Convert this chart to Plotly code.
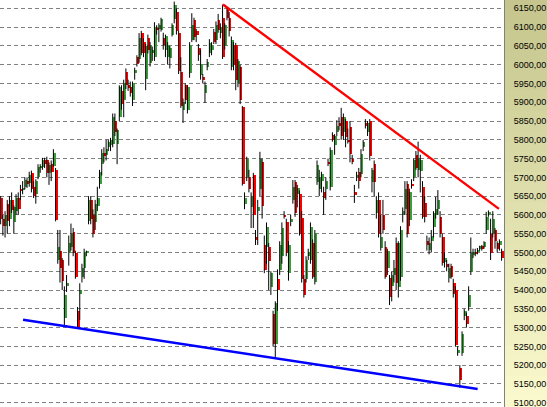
import plotly.graph_objects as go

# ---- data (daily candles, index = trading day) ----
opens = [
    5645, 5590, 5570, 5630, 5590, 5640, 5580, 5610, 5645, 5670,
    5668, 5675, 5690, 5685, 5712, 5675, 5655, 5700, 5725, 5728,
    5746, 5745, 5712, 5735, 5730, 5720, 5480, 5505, 5480, 5325,
    5410, 5498, 5515, 5555, 5498, 5345, 5390, 5435, 5460, 5500,
    5585, 5640, 5600, 5580, 5625, 5683, 5735, 5765, 5760, 5780,
    5785, 5790, 5850, 5790, 5860, 5930, 5905, 5980, 5945, 5940,
    5905, 5978, 6020, 6015, 6084, 6060, 5962, 6072, 6005, 6030,
    6020, 6098, 6095, 6092, 6070, 6040, 6020, 6017, 6080, 6122,
    6140, 6084, 5980, 5880, 5945, 5880, 5977, 6066, 6118, 6090,
    6044, 5972, 5966, 5924, 5995, 6030, 6040, 6087, 6066, 6118,
    6085, 6124, 6050, 6150, 6125, 5995, 6052, 6052, 5950, 5995,
    5888, 5630, 5700, 5702, 5620, 5705, 5540, 5610, 5670, 5740,
    5520, 5515, 5515, 5408, 5337, 5257, 5430, 5453, 5490, 5600,
    5582, 5445, 5582, 5640, 5688, 5655, 5657, 5591, 5430, 5430,
    5490, 5480, 5525, 5422, 5688, 5670, 5690, 5660, 5670, 5742,
    5675, 5812, 5785, 5820, 5845, 5860, 5820, 5850, 5800, 5833,
    5750, 5660, 5700, 5715, 5710, 5780, 5845, 5820, 5850, 5688,
    5735, 5605, 5640, 5512, 5600, 5515, 5460, 5432, 5410, 5440,
    5525, 5408, 5435, 5600, 5617, 5683, 5587, 5683, 5700, 5760,
    5720, 5717, 5675, 5632, 5530, 5507, 5530, 5568, 5600, 5615,
    5595, 5542, 5475, 5470, 5432, 5465, 5420, 5400, 5235, 5193,
    5233, 5330, 5330, 5355, 5448, 5492, 5502, 5500, 5510, 5516,
    5515, 5560, 5600, 5550, 5550, 5560, 5525, 5520, 5505,
]
highs = [
    5650, 5600, 5610, 5640, 5650, 5660, 5625, 5655, 5660, 5680,
    5690, 5700, 5700, 5715, 5718, 5690, 5695, 5735, 5735, 5752,
    5752, 5755, 5740, 5745, 5775, 5725, 5560, 5560, 5485, 5410,
    5440, 5545, 5577, 5565, 5505, 5355, 5418, 5470, 5510, 5505,
    5650, 5650, 5615, 5640, 5675, 5720, 5775, 5780, 5800, 5800,
    5805, 5870, 5870, 5830, 5945, 5945, 5960, 5990, 5960, 5955,
    5955, 5992, 6025, 6084, 6090, 6070, 6055, 6080, 6060, 6048,
    6113, 6105, 6110, 6125, 6085, 6080, 6060, 6050, 6110, 6168,
    6150, 6090, 6020, 5910, 5950, 5945, 6060, 6137, 6125, 6095,
    6055, 6040, 5975, 5955, 6015, 6068, 6060, 6095, 6115, 6135,
    6110, 6160, 6110, 6152, 6140, 6075, 6060, 6058, 6015, 6000,
    5890, 5660, 5755, 5720, 5660, 5712, 5560, 5640, 5768, 5750,
    5545, 5580, 5525, 5450, 5345, 5370, 5455, 5530, 5580, 5610,
    5590, 5530, 5600, 5693, 5693, 5680, 5665, 5610, 5440, 5490,
    5510, 5580, 5535, 5560, 5745, 5720, 5715, 5675, 5700, 5750,
    5780, 5820, 5815, 5852, 5860, 5885, 5870, 5855, 5830, 5850,
    5760, 5680, 5715, 5725, 5775, 5800, 5855, 5850, 5855, 5725,
    5745, 5650, 5660, 5600, 5640, 5530, 5510, 5440, 5450, 5480,
    5540, 5530, 5570, 5620, 5690, 5690, 5670, 5695, 5750, 5770,
    5795, 5760, 5690, 5650, 5545, 5540, 5560, 5610, 5648, 5666,
    5610, 5550, 5500, 5480, 5470, 5470, 5430, 5410, 5250, 5200,
    5290, 5350, 5340, 5410, 5540, 5510, 5510, 5512, 5518, 5520,
    5530, 5608, 5612, 5590, 5610, 5565, 5530, 5535, 5510,
]
lows = [
    5575, 5545, 5540, 5550, 5570, 5605, 5550, 5600, 5600, 5640,
    5655, 5668, 5672, 5675, 5660, 5645, 5630, 5695, 5712, 5720,
    5725, 5700, 5680, 5690, 5728, 5583, 5470, 5420, 5400, 5307,
    5395, 5465, 5505, 5490, 5430, 5298, 5320, 5420, 5430, 5490,
    5575, 5575, 5540, 5560, 5610, 5670, 5705, 5740, 5745, 5770,
    5770, 5780, 5810, 5735, 5850, 5880, 5860, 5935, 5930, 5915,
    5890, 5960, 5995, 6005, 6025, 6020, 5932, 6030, 5995, 6010,
    6010, 6080, 6060, 6088, 6040, 6020, 6000, 5990, 6075, 6110,
    6080, 5975, 5885, 5845, 5895, 5870, 5965, 6060, 6065, 6060,
    6010, 5960, 5950, 5898, 5985, 6020, 6025, 6055, 6055, 6085,
    6070, 6015, 6040, 6118, 6075, 5985, 5985, 5932, 5940, 5895,
    5678, 5615, 5690, 5660, 5565, 5565, 5520, 5520, 5650, 5590,
    5445, 5470, 5400, 5387, 5250, 5218, 5345, 5440, 5470, 5590,
    5490, 5425, 5570, 5630, 5595, 5620, 5545, 5420, 5380, 5420,
    5480, 5470, 5430, 5415, 5680, 5650, 5660, 5600, 5640, 5730,
    5665, 5795, 5760, 5810, 5825, 5800, 5800, 5780, 5790, 5740,
    5735, 5632, 5690, 5670, 5700, 5770, 5830, 5810, 5745, 5660,
    5650, 5590, 5540, 5505, 5550, 5430, 5440, 5360, 5370, 5420,
    5400, 5380, 5425, 5580, 5600, 5540, 5570, 5670, 5690, 5720,
    5700, 5660, 5590, 5580, 5505, 5495, 5500, 5540, 5590, 5600,
    5540, 5465, 5460, 5450, 5420, 5430, 5380, 5250, 5225, 5140,
    5225, 5320, 5300, 5345, 5440, 5485, 5490, 5495, 5505, 5505,
    5510, 5550, 5595, 5480, 5540, 5510, 5500, 5505, 5478,
]
closes = [
    5590, 5570, 5600, 5585, 5640, 5612, 5620, 5645, 5615, 5665,
    5672, 5692, 5682, 5706, 5670, 5650, 5690, 5728, 5730, 5746,
    5735, 5712, 5732, 5715, 5765, 5587, 5515, 5460, 5425, 5387,
    5418, 5525, 5550, 5498, 5435, 5300, 5400, 5460, 5500, 5503,
    5640, 5590, 5550, 5630, 5645, 5713, 5765, 5758, 5775, 5795,
    5800, 5860, 5820, 5825, 5940, 5895, 5950, 5945, 5940, 5925,
    5950, 5986, 6003, 6070, 6030, 6030, 6050, 6040, 6052, 6040,
    6100, 6092, 6105, 6122, 6052, 6075, 6052, 6044, 6105, 6160,
    6090, 5982, 5890, 5900, 5905, 5940, 6052, 6105, 6073, 6080,
    6025, 6003, 5958, 5946, 6008, 6057, 6050, 6060, 6105, 6092,
    6100, 6020, 6105, 6125, 6090, 6066, 5998, 5960, 6010, 5905,
    5682, 5645, 5750, 5670, 5650, 5600, 5533, 5620, 5750, 5625,
    5453, 5568, 5478, 5445, 5257, 5365, 5400, 5520, 5565, 5596,
    5498, 5520, 5590, 5675, 5605, 5672, 5550, 5430, 5387, 5480,
    5500, 5568, 5435, 5552, 5732, 5700, 5710, 5645, 5690, 5738,
    5774, 5800, 5810, 5836, 5838, 5810, 5860, 5807, 5795, 5763,
    5742, 5655, 5706, 5690, 5763, 5795, 5838, 5845, 5757, 5720,
    5688, 5640, 5550, 5542, 5560, 5435, 5505, 5382, 5440, 5460,
    5420, 5525, 5560, 5610, 5670, 5550, 5662, 5676, 5745, 5725,
    5752, 5745, 5595, 5595, 5520, 5525, 5545, 5604, 5615, 5640,
    5550, 5473, 5485, 5462, 5460, 5435, 5390, 5253, 5240, 5160,
    5283, 5345, 5310, 5387, 5498, 5500, 5496, 5506, 5516, 5510,
    5528, 5595, 5608, 5498, 5590, 5530, 5508, 5530, 5485,
]

# trend lines (day index, price)
resistance_x = [101.2, 226.8]
resistance_y = [6160, 5616]
support_x = [10.2, 217.1]
support_y = [5321, 5136.6]

tick_values = [5100, 5150, 5200, 5250, 5300, 5350, 5400, 5450, 5500, 5550, 5600,
               5650, 5700, 5750, 5800, 5850, 5900, 5950, 6000, 6050, 6100, 6150]
tick_labels = ["5100,00", "5150,00", "5200,00", "5250,00", "5300,00", "5350,00",
               "5400,00", "5450,00", "5500,00", "5550,00", "5600,00", "5650,00",
               "5700,00", "5750,00", "5800,00", "5850,00", "5900,00", "5950,00",
               "6000,00", "6050,00", "6100,00", "6150,00"]

# ---- build figure ----
n = len(closes)
days = list(range(n))

wick_x, wick_y = [], []
for i in range(n):
    wick_x += [days[i], days[i], None]
    wick_y += [min(lows[i], opens[i], closes[i]), max(highs[i], opens[i], closes[i]), None]

body_base = [min(o, c) for o, c in zip(opens, closes)]
body_h = [max(abs(c - o), 2.5) for o, c in zip(opens, closes)]
GREEN = "#3a9e3a"
RED = "#ff0000"
body_col = [GREEN if c >= o else RED for o, c in zip(opens, closes)]

fig = go.Figure()
fig.add_trace(go.Scatter(x=wick_x, y=wick_y, mode="lines",
                         line=dict(color="black", width=1), hoverinfo="skip"))
fig.add_trace(go.Bar(x=days, y=body_h, base=body_base, width=0.85, offset=0.2,
                     marker=dict(color=body_col, line=dict(width=0)), hoverinfo="skip"))
fig.add_trace(go.Scatter(x=resistance_x, y=resistance_y, mode="lines",
                         line=dict(color="#ff0000", width=2.4), hoverinfo="skip"))
fig.add_trace(go.Scatter(x=support_x, y=support_y, mode="lines",
                         line=dict(color="#0000ff", width=2.4), hoverinfo="skip"))

# gradient panel behind the price axis
W, H = 547, 407
plot_w = 504
shapes = []
steps = 40
top = (196, 196, 140)
bot = (250, 250, 206)
for k in range(steps):
    t = (k + 0.5) / steps
    col = tuple(round(top[j] + (bot[j] - top[j]) * t) for j in range(3))
    shapes.append(dict(type="rect", xref="paper", yref="paper",
                       x0=1.0, x1=W / plot_w, y0=1 - (k + 1) / steps, y1=1 - k / steps + 0.002,
                       fillcolor="rgb(%d,%d,%d)" % col, line=dict(width=0), layer="below"))

fig.update_layout(
    width=W, height=H,
    margin=dict(l=0, r=W - plot_w, t=0, b=0),
    paper_bgcolor="white", plot_bgcolor="white",
    showlegend=False, bargap=0, hovermode=False,
    shapes=shapes,
    xaxis=dict(range=[-0.3, n + 0.1], visible=False, showgrid=False, zeroline=False),
    yaxis=dict(side="right", range=[5088.7, 6172.1],
               tickmode="array", tickvals=tick_values, ticktext=tick_labels,
               showgrid=True, gridcolor="#808080", gridwidth=1, griddash="4px,3px",
               showline=True, linecolor="#808080", linewidth=1,
               ticks="", ticklabelstandoff=7, ticklabeloverflow="allow", zeroline=False,
               tickfont=dict(family="Liberation Sans", size=9, color="black")),
)

fig.write_html("out.html", config={"displayModeBar": False},
               post_script="document.body.style.margin='0';document.body.style.overflow='hidden';")
